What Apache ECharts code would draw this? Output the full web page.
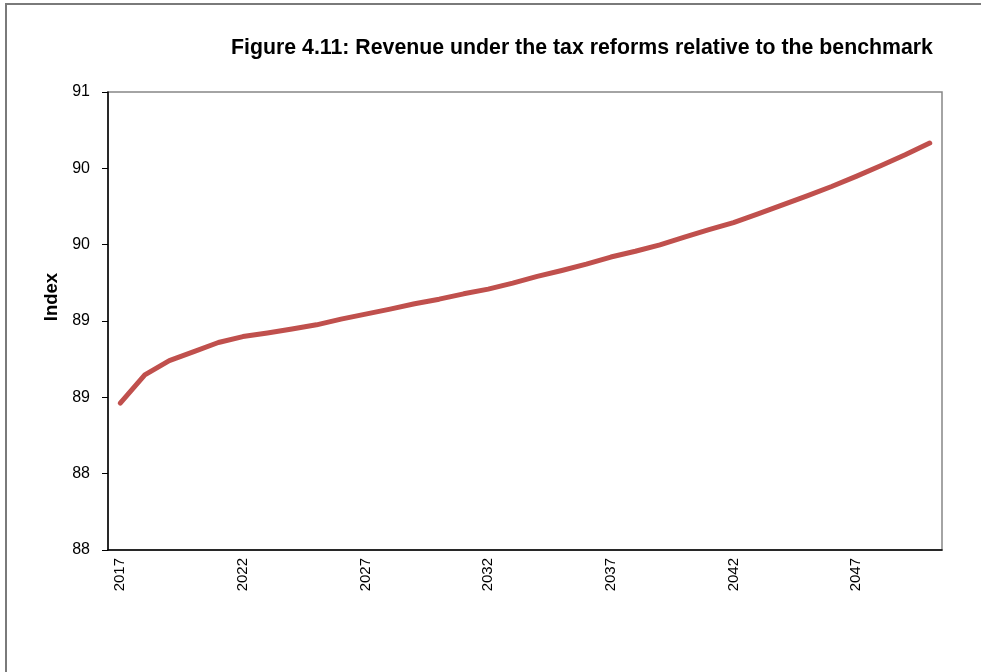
<!DOCTYPE html>
<html>
<head>
<meta charset="utf-8">
<script src="https://cdn.jsdelivr.net/npm/echarts@6/dist/echarts.min.js"></script>
<style>
  html, body {
    margin: 0;
    padding: 0;
    background: #fff;
  }
  .frame {
    position: absolute;
    left: 5px;
    top: 3px;
    width: 1000px;
    height: 700px;
    border-left: 2px solid #7a7a7a;
    border-top: 2px solid #7a7a7a;
  }
  .chart {
    position: absolute;
    left: 0;
    top: 0;
    width: 981px;
    height: 672px;
  }
</style>
</head>
<body>
<div class="frame"></div>
<div class="chart" id="chart"></div>
<script>
const years = [
  '2017', '2018', '2019', '2020', '2021', '2022', '2023', '2024', '2025', '2026',
  '2027', '2028', '2029', '2030', '2031', '2032', '2033', '2034', '2035', '2036',
  '2037', '2038', '2039', '2040', '2041', '2042', '2043', '2044', '2045', '2046',
  '2047', '2048', '2049', '2050',
]
const revenueIndex = [
  88.462, 88.647, 88.741, 88.800, 88.859, 88.898, 88.921, 88.947, 88.975, 89.012,
  89.045, 89.078, 89.113, 89.143, 89.178, 89.209, 89.248, 89.292, 89.331, 89.373,
  89.419, 89.457, 89.499, 89.550, 89.598, 89.645, 89.702, 89.761, 89.820, 89.881,
  89.947, 90.017, 90.089, 90.166,
]
const yTickLabels = ['88', '88', '89', '89', '90', '90', '91']

const font = '"Liberation Sans", Arial, sans-serif'
const mychart = echarts.init(document.getElementById('chart'))

mychart.setOption({
  animation: false,
  title: {
    text: 'Figure 4.11: Revenue under the tax reforms relative to the benchmark',
    left: 577,
    textAlign: 'center',
    top: 33,
    textStyle: {
      fontFamily: font,
      fontSize: 21.3,
      fontWeight: 'bold',
      color: '#000',
    },
  },
  grid: {
    left: 108,
    right: 39,
    top: 92,
    bottom: 122,
    show: true,
    borderColor: '#868686',
    borderWidth: 1.5,
    backgroundColor: 'transparent',
  },
  xAxis: {
    type: 'category',
    data: years,
    boundaryGap: true,
    axisLine: { lineStyle: { color: '#000', width: 1.5 } },
    axisTick: {
      interval: 4,
      length: 6,
      lineStyle: { color: '#000', width: 1 },
    },
    axisLabel: {
      interval: 4,
      rotate: 90,
      margin: 8,
      fontFamily: font,
      fontSize: 15,
      color: '#000',
    },
    splitLine: { show: false },
  },
  yAxis: {
    type: 'value',
    min: 87.5,
    max: 90.5,
    interval: 0.5,
    name: 'Index',
    nameLocation: 'middle',
    nameGap: 46,
    nameTextStyle: {
      fontFamily: font,
      fontSize: 18.5,
      fontWeight: 'bold',
      color: '#000',
      padding: [0, 0, 0, 48],
    },
    axisLine: { show: true, lineStyle: { color: '#000', width: 1.5 } },
    axisTick: { show: true, length: 6, lineStyle: { color: '#000', width: 1 } },
    axisLabel: {
      margin: 18,
      fontFamily: font,
      fontSize: 16,
      color: '#000',
      formatter: (value, index) => yTickLabels[index],
    },
    splitLine: { show: false },
  },
  series: [
    {
      name: 'Revenue',
      type: 'line',
      data: revenueIndex,
      symbol: 'none',
      smooth: false,
      lineStyle: {
        color: '#C0504D',
        width: 5,
        cap: 'round',
        join: 'round',
      },
    },
  ],
})
</script>
</body>
</html>
